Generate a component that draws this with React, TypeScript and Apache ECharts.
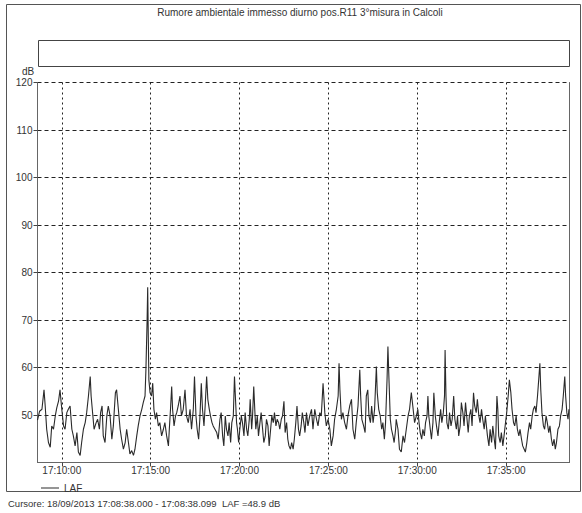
import React, { useEffect, useRef } from "react";
import * as echarts from "echarts";

// Chart title and texts
const TITLE = "Rumore ambientale immesso diurno pos.R11 3°misura in Calcoli";
const CURSOR_TEXT = "Cursore: 18/09/2013 17:08:38.000 - 17:08:38.099  LAF =48.9 dB";
const SERIES_NAME = "LAF";

// X axis: seconds after 17:00:00
const X_MIN = 518; // 17:08:38
const X_MAX = 2314; // 17:38:34
const X_TICKS = [600, 900, 1200, 1500, 1800, 2100];

// Y axis (dB)
const Y_MIN = 40;
const Y_MAX = 120;
const Y_STEP = 10;

// Sample times (seconds after 17:00:00)
const times = [
  518, 525, 533, 540, 544, 549, 555, 561, 566, 572, 578, 583, 589, 594, 600, 606, 611, 617, 622, 628,
  634, 639, 645, 651, 656, 662, 667, 673, 679, 684, 690, 696, 699, 705, 709, 716, 721, 727, 731, 736,
  740, 746, 752, 757, 763, 769, 774, 781, 785, 791, 797, 802, 808, 814,
  819, 825, 830, 836, 842, 847, 853, 858, 864, 870, 875, 881, 884, 888, 890, 892, 894, 898, 903, 907,
  911, 916, 920, 926, 931, 937, 943, 948, 954, 960, 963, 967, 971, 974, 979, 984, 988, 993, 999, 1004,
  1010, 1016, 1021, 1027, 1033, 1038, 1044, 1048, 1053, 1057, 1062, 1066, 1071, 1075, 1080, 1084, 1089,
  1093, 1098, 1102, 1107, 1111, 1117,
  1123, 1128, 1134, 1138, 1143, 1147, 1152, 1156, 1161, 1165, 1170, 1174, 1179, 1183, 1187, 1190, 1193,
  1197, 1201, 1206, 1210, 1215, 1219, 1224, 1228, 1233, 1236, 1241, 1244, 1248, 1252, 1255, 1260, 1264,
  1269, 1273, 1278, 1282, 1287, 1291, 1296, 1300, 1305, 1309, 1314, 1318, 1323, 1327, 1332, 1336, 1341,
  1345, 1350, 1354, 1359, 1363, 1367, 1372, 1376, 1381, 1385, 1390, 1394, 1399, 1403, 1408, 1412, 1417, 1421,
  1426, 1431, 1437, 1443, 1448, 1454, 1460, 1465, 1471, 1476, 1482, 1488, 1493, 1499, 1505, 1510, 1516,
  1521, 1527, 1533, 1536, 1539, 1544, 1549, 1555, 1561, 1566, 1572, 1578, 1583, 1589, 1594, 1600, 1606,
  1609, 1613, 1619, 1624, 1628, 1633, 1637, 1642, 1646, 1651, 1656, 1662, 1665, 1670, 1675, 1680, 1684,
  1689, 1693, 1698, 1701, 1705, 1709, 1713, 1718, 1722, 1727,
  1729, 1735, 1740, 1746, 1752, 1757, 1763, 1769, 1774, 1780, 1785, 1791, 1797, 1802, 1806, 1810, 1815,
  1819, 1824, 1828, 1833, 1836, 1839, 1844, 1848, 1853, 1856, 1861, 1865, 1870, 1874, 1879, 1883, 1888,
  1892, 1894, 1897, 1900, 1905, 1909, 1914, 1918, 1923, 1927, 1932, 1936, 1940, 1945, 1949, 1954, 1958,
  1963, 1967, 1972, 1976, 1981, 1985, 1990, 1994, 1999, 2003, 2008, 2012, 2017, 2021, 2026, 2030,
  2037, 2042, 2046, 2051, 2055, 2060, 2064, 2069, 2072, 2075, 2080, 2084, 2089, 2093, 2098, 2102, 2107,
  2111, 2116, 2120, 2125, 2129, 2134, 2138, 2143, 2147, 2152, 2156, 2161, 2165, 2170, 2174, 2179, 2183,
  2188, 2192, 2197, 2201, 2206, 2210, 2214, 2217, 2221, 2226, 2230, 2235, 2239, 2244, 2248, 2253, 2257,
  2262, 2266, 2270, 2275, 2280, 2284, 2289, 2293, 2298, 2301, 2305, 2309, 2312,
];

// LAF level (dB)
const laf = [
  48.9, 50.8, 51.2, 55.3, 51.9, 47.0, 44.2, 43.2, 47.7, 47.0, 49.8, 51.5, 52.9, 55.3, 51.2, 47.7, 47.0, 50.5, 51.2, 51.9,
  47.0, 45.6, 43.5, 46.3, 42.2, 41.5, 44.2, 47.0, 48.4, 50.5, 54.0, 58.1, 54.0, 49.8, 47.0, 48.4, 49.1, 47.0, 50.5, 51.9,
  45.6, 44.2, 49.8, 51.9, 49.8, 44.9, 47.7, 54.7, 55.3, 51.2, 47.0, 44.9, 42.8, 44.2,
  47.0, 44.2, 41.8, 42.5, 41.5, 42.8, 45.6, 47.7, 49.8, 51.2, 52.6, 54.0, 59.5, 69.9, 76.9, 66.5, 57.4, 54.7, 54.0, 56.7,
  51.2, 49.1, 50.5, 47.7, 48.4, 45.6, 47.0, 48.4, 45.6, 43.5, 47.0, 51.2, 56.0, 51.2, 47.7, 49.8, 50.5, 51.9, 54.0, 49.8,
  51.2, 55.3, 49.8, 48.4, 51.2, 47.0, 51.2, 58.1, 49.8, 47.0, 44.9, 49.1, 56.7, 51.2, 47.7, 51.9, 58.1,
  53.3, 51.2, 49.8, 48.4, 47.7, 47.0,
  46.3, 44.9, 49.1, 50.5, 45.6, 43.5, 49.8, 47.0, 45.6, 48.4, 44.2, 48.4, 49.8, 58.1, 52.6, 48.4, 47.0,
  44.2, 47.0, 49.8, 48.4, 45.6, 50.5, 47.0, 45.6, 49.1, 53.3, 47.0, 49.8, 56.0, 50.5, 47.0, 49.8, 45.6,
  48.4, 50.5, 47.0, 44.2, 45.6, 49.1, 47.7, 43.5, 47.0, 49.8, 48.4, 50.5, 47.7, 49.1, 48.4, 47.0, 49.1,
  49.8, 52.9, 46.3, 48.4, 44.9, 43.5, 42.8, 44.2, 42.8, 44.9, 48.4, 51.9, 47.0, 45.6, 47.7, 50.5, 48.4, 46.3,
  50.5, 47.7, 49.8, 51.2, 47.0, 51.2, 49.1, 47.7, 50.5, 49.8, 56.7, 50.5, 47.7, 49.1, 47.0, 43.5, 45.6,
  49.1, 51.2, 54.0, 60.9, 55.3, 49.1, 50.5, 48.4, 47.0, 49.8, 51.9, 53.3, 47.0, 44.9, 48.4, 51.9, 59.5,
  54.0, 49.1, 47.7, 46.3, 54.0, 55.3, 49.8, 48.4, 51.9, 48.4, 51.2, 60.2, 54.7, 51.2, 49.8, 47.0, 48.4,
  44.9, 48.4, 57.4, 64.4, 56.7, 49.1, 47.0, 45.6, 44.2, 47.0,
  49.1, 47.0, 42.8, 42.2, 45.6, 44.2, 47.0, 49.8, 51.2, 54.7, 51.9, 48.4, 49.8, 51.2, 48.4, 46.3, 44.9,
  47.0, 45.6, 48.4, 49.8, 54.0, 49.8, 47.0, 44.9, 48.4, 54.7, 49.8, 47.7, 45.6, 48.4, 51.2, 48.4, 50.5,
  54.0, 63.7, 54.0, 48.4, 47.0, 50.5, 47.7, 49.1, 54.0, 49.1, 47.0, 49.8, 45.6, 47.7, 52.6, 50.5, 47.7,
  52.6, 49.8, 46.3, 49.8, 51.2, 47.7, 54.7, 51.9, 50.5, 53.3, 49.8, 48.4, 51.2, 49.1, 47.0, 49.8,
  45.6, 43.5, 47.0, 44.2, 47.7, 44.9, 42.8, 54.0, 51.2, 45.6, 44.2, 46.3, 43.5, 45.6, 48.4, 50.5, 54.0,
  57.4, 54.7, 51.2, 48.4, 47.7, 49.8, 47.0, 45.6, 47.0, 44.9, 43.5, 42.8, 42.2, 44.2, 46.3, 48.4, 47.0,
  49.8, 51.2, 51.9, 50.5, 54.0, 57.4, 60.9, 55.3, 50.5, 47.7, 47.0, 49.8, 48.4, 46.3, 47.7, 44.9, 43.5,
  44.9, 42.8, 44.2, 47.0, 47.7, 49.8, 51.2, 54.0, 58.1, 54.0, 50.5, 49.1, 51.2,
];

const FONT = "'Liberation Sans', Arial, sans-serif";
const TEXT_COLOR = "#333";

function fmtTime(v: number): string {
  const total = 17 * 3600 + Math.round(v);
  const h = Math.floor(total / 3600);
  const m = Math.floor((total % 3600) / 60);
  const s = total % 60;
  const p = (n: number) => String(n).padStart(2, "0");
  return `${p(h)}:${p(m)}:${p(s)}`;
}

export default function App() {
  const ref = useRef<HTMLDivElement>(null);

  useEffect(() => {
    if (!ref.current) return;
    const chart = echarts.init(ref.current, null, { renderer: "svg" });
    const data = times.map((t, i) => [t, laf[i]]);

    chart.setOption({
      animation: false,
      backgroundColor: "#fff",
      textStyle: { fontFamily: FONT },
      grid: { left: 37.5, right: 12.5, top: 82.5, bottom: 50.5, containLabel: false },
      legend: {
        show: true,
        left: 36,
        top: 478,
        itemWidth: 18,
        itemHeight: 1,
        icon: "rect",
        itemGap: 6,
        textStyle: { fontSize: 10, color: TEXT_COLOR, fontFamily: FONT },
        data: [SERIES_NAME],
      },
      xAxis: {
        type: "value",
        min: X_MIN,
        max: X_MAX,
        axisLine: { show: true, lineStyle: { color: "#666", width: 1 } },
        axisTick: {
          show: true,
          length: 4,
          customValues: X_TICKS,
          lineStyle: { color: "#444" },
        },
        axisLabel: {
          customValues: X_TICKS,
          formatter: (v: number) => fmtTime(v),
          fontSize: 10,
          color: TEXT_COLOR,
          margin: 3,
          fontFamily: FONT,
        },
        splitLine: {
          show: true,
          lineStyle: { color: "#222", type: [2, 3], width: 1 },
        },
      },
      yAxis: [
        {
          type: "value",
          min: Y_MIN,
          max: Y_MAX,
          interval: Y_STEP,
          axisLine: { show: true, lineStyle: { color: "#666", width: 1 } },
          axisTick: { show: true, length: 4, lineStyle: { color: "#444" } },
          axisLabel: {
            showMinLabel: false,
            fontSize: 10,
            color: TEXT_COLOR,
            margin: 5,
            fontFamily: FONT,
          },
          splitLine: {
            show: true,
            lineStyle: { color: "#222", type: [4, 3], width: 1 },
          },
        },
        {
          type: "value",
          position: "right",
          min: Y_MIN,
          max: Y_MAX,
          interval: Y_STEP,
          axisLine: { show: true, lineStyle: { color: "#666", width: 1 } },
          axisTick: { show: false },
          axisLabel: { show: false },
          splitLine: { show: false },
        },
      ],
      series: [
        {
          name: SERIES_NAME,
          type: "line",
          data,
          showSymbol: false,
          symbol: "none",
          color: "#2a2a2a",
          lineStyle: { color: "#2a2a2a", width: 1.1 },
        },
      ],
      graphic: [
        {
          type: "rect",
          shape: { x: 6.5, y: 4.5, width: 574, height: 487 },
          style: { fill: "none", stroke: "#555", lineWidth: 1 },
          silent: true,
        },
        {
          type: "text",
          x: 300,
          y: 12,
          style: {
            text: TITLE,
            fill: TEXT_COLOR,
            fontSize: 10,
            fontFamily: FONT,
            textAlign: "center",
            textVerticalAlign: "middle",
          },
        },
        {
          type: "rect",
          shape: { x: 38.5, y: 40.5, width: 531, height: 26 },
          style: { fill: "none", stroke: "#444", lineWidth: 1 },
          silent: true,
        },
        {
          type: "text",
          x: 28,
          y: 71,
          style: {
            text: "dB",
            fill: TEXT_COLOR,
            fontSize: 10,
            fontFamily: FONT,
            textAlign: "center",
            textVerticalAlign: "middle",
          },
        },
        {
          type: "text",
          x: 8,
          y: 503,
          style: {
            text: CURSOR_TEXT,
            fill: TEXT_COLOR,
            fontSize: 9.5,
            fontFamily: FONT,
            textAlign: "left",
            textVerticalAlign: "middle",
          },
        },
      ],
    });

    return () => chart.dispose();
  }, []);

  return (
    <div
      ref={ref}
      style={{ position: "fixed", left: 0, top: 0, width: 582, height: 513, background: "#fff" }}
    />
  );
}
